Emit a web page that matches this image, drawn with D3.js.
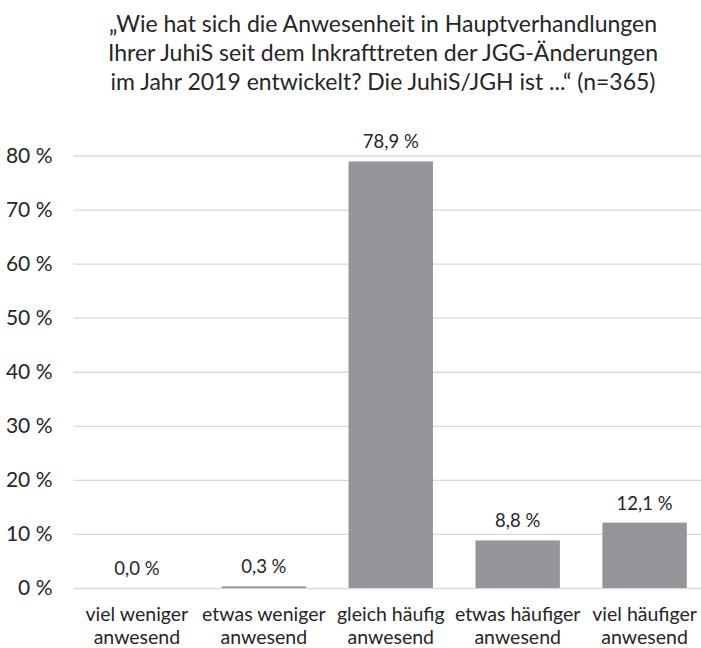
<!DOCTYPE html>
<html>
<head>
<meta charset="utf-8">
<script src="https://cdn.jsdelivr.net/npm/d3@7"></script>
<style>
    body { margin: 0; background: #ffffff; }
    svg { display: block; font-family: Lato, "Open Sans", sans-serif; }
</style>
</head>
<body>
<svg id="drawing_region"></svg>
<script>
// Daten aus der Grafik
const title_lines = [
    "\u201EWie hat sich die Anwesenheit in Hauptverhandlungen",
    "Ihrer JuhiS seit dem Inkrafttreten der JGG-\u00C4nderungen",
    "im Jahr 2019 entwickelt? Die JuhiS/JGH ist ...\u201C (n=365)"
];
const categories = [
    ["viel weniger", "anwesend"],
    ["etwas weniger", "anwesend"],
    ["gleich h\u00E4ufig", "anwesend"],
    ["etwas h\u00E4ufiger", "anwesend"],
    ["viel h\u00E4ufiger", "anwesend"]
];
const values = [0.0, 0.3, 78.9, 8.8, 12.1];
const y_ticks = [0, 10, 20, 30, 40, 50, 60, 70, 80];

const config = {
    width: 701,
    height: 648,
    left: 73.5,
    right: 708,
    top: 155.5,
    bottom: 588
};

const fmt = v => v.toFixed(1).replace(".", ",") + " %";

const svg = d3.select("#drawing_region")
    .attr("width", config.width)
    .attr("height", config.height);

// Titel
svg.append("g")
    .selectAll("text")
    .data(title_lines)
    .join("text")
    .attr("x", 383)
    .attr("y", (d, i) => 32 + i * 29)
    .attr("text-anchor", "middle")
    .attr("font-size", "23px")
    .attr("fill", "#262626")
    .text(d => d);

const xscale = d3.scaleBand()
    .domain(d3.range(categories.length))
    .range([config.left, config.right])
    .paddingInner(0.335)
    .paddingOuter(0.167);

const yscale = d3.scaleLinear()
    .domain([0, 80])
    .range([config.bottom, config.top]);

// y-Achse mit Gitterlinien
const yaxis = d3.axisLeft(yscale)
    .tickValues(y_ticks)
    .tickFormat(d => d + " %")
    .tickSize(-(config.width - config.left))
    .tickPadding(21);

const yaxis_group = svg.append("g")
    .attr("transform", `translate(${config.left}, 0)`)
    .call(yaxis);
yaxis_group.select(".domain").remove();
yaxis_group.selectAll(".tick line")
    .attr("stroke", "#d9d9d9")
    .attr("stroke-width", 1.3);
yaxis_group.selectAll(".tick text")
    .attr("font-size", "21px")
    .attr("font-family", "Lato, sans-serif")
    .attr("fill", "#262626");

// Balken
svg.append("g")
    .selectAll("rect")
    .data(values)
    .join("rect")
    .attr("x", (d, i) => xscale(i))
    .attr("y", d => yscale(d))
    .attr("width", xscale.bandwidth())
    .attr("height", d => yscale(0) - yscale(d))
    .attr("fill", "#939598");

// Datenbeschriftungen
svg.append("g")
    .selectAll("text")
    .data(values)
    .join("text")
    .attr("x", (d, i) => xscale(i) + xscale.bandwidth() / 2)
    .attr("y", d => yscale(d) - 13)
    .attr("text-anchor", "middle")
    .attr("font-size", "18.5px")
    .attr("fill", "#262626")
    .text(d => fmt(d));

// Kategorien (zweizeilig)
const cat_groups = svg.append("g")
    .selectAll("text")
    .data(categories)
    .join("text")
    .attr("x", (d, i) => xscale(i) + xscale.bandwidth() / 2)
    .attr("text-anchor", "middle")
    .attr("font-size", "19.5px")
    .attr("fill", "#262626");

cat_groups.selectAll("tspan")
    .data(d => d)
    .join("tspan")
    .attr("x", function() { return d3.select(this.parentNode).attr("x"); })
    .attr("y", (d, i) => 621 + i * 23)
    .text(d => d);
</script>
</body>
</html>
